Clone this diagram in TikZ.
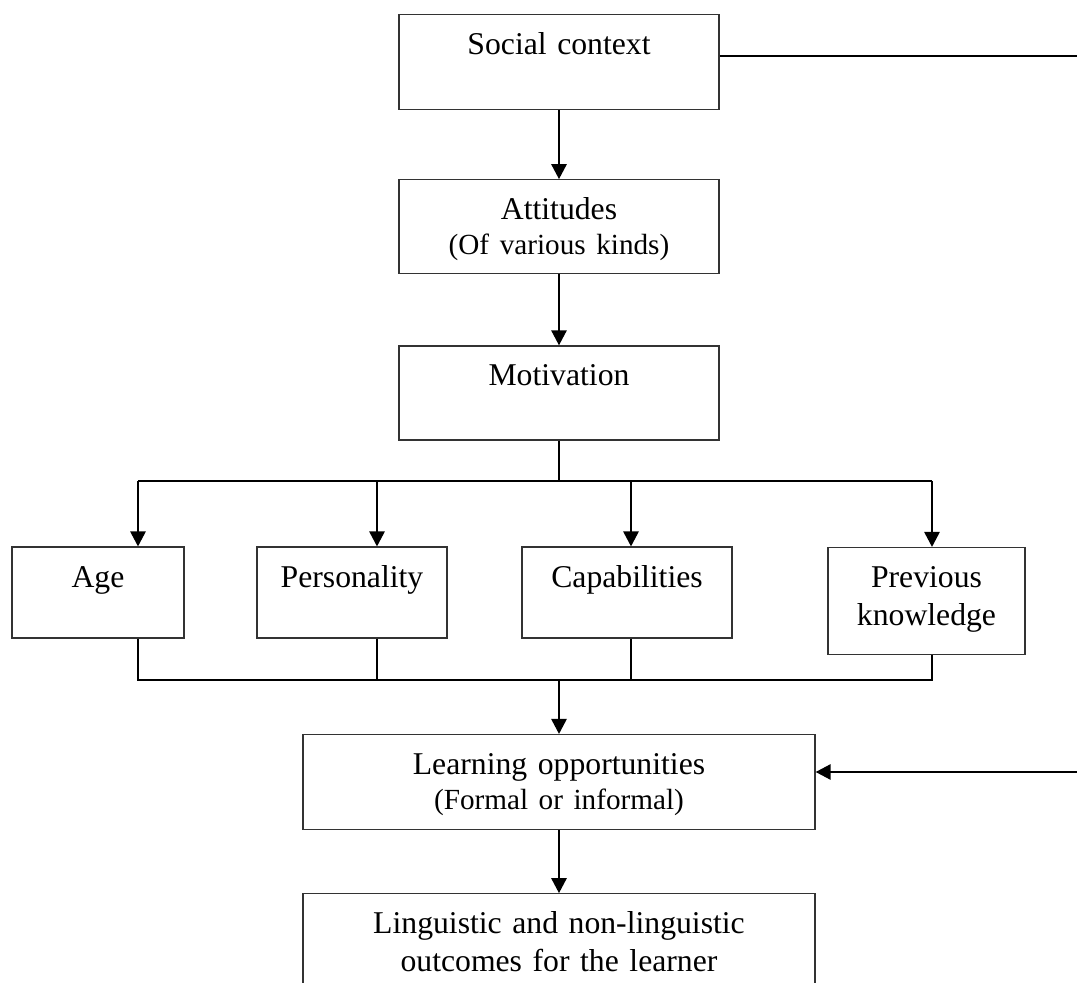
\documentclass[tikz,border=0pt]{standalone}
\usepackage{fontspec}
\setmainfont{Liberation Serif}
\usetikzlibrary{arrows.meta, positioning}
\newcommand{\subline}{\fontsize{14.6}{17.5}\selectfont}

\begin{document}
\begin{tikzpicture}[
    x=0.5pt, y=-0.5pt,
    box/.style={draw=black!80, line width=0.6pt, rectangle, anchor=north, inner xsep=0pt, inner ysep=0pt, align=center, text height=20pt, text depth=27pt, text width=160pt, font=\fontsize{15.85}{19}\selectfont},
    arrow/.style={-{Triangle[length=7.5pt, width=7.5pt]}, line width=1.3pt},
    link/.style={line width=0.55pt}
]
\path [use as bounding box] (0,0) rectangle (1077,983);
\clip (0,0) rectangle (1077,983);

% Main column
\node [box, text depth=27.5pt] (soc) at (559,14) {Social context};
\node [box, below=34.5pt of soc] (att) {Attitudes\\[-1.5pt]{\subline (Of various kinds)}};
\node [box, below=35.5pt of att] (mot) {Motivation};

% Learner factors
\node [box, text width=86pt, text depth=25.5pt] (age) at (98,546.5) {Age};
\node [box, text width=95pt, text depth=25.5pt] (pers) at (352,546.5) {Personality};
\node [box, text width=105pt, text depth=25.5pt] (cap) at (627,546.5) {Capabilities};
\node [box, text width=98.5pt, text depth=33.5pt] (prev) at (926.5,547) {Previous\\knowledge};

\node [box, text width=256pt, text depth=27.5pt] (learn) at (559,734) {Learning opportunities\\[-1.5pt]{\subline (Formal or informal)}};
\node [box, text width=256pt, text depth=28pt, below=31.5pt of learn] (outc) {Linguistic and non-linguistic\\outcomes for the learner};

% Free ends and bus points
\coordinate (ctxend) at (1077,56);
\coordinate (lrnstart) at (1077,772);
\coordinate (busin) at (559,481);
\coordinate (busA) at (138,481);
\coordinate (busB) at (377,481);
\coordinate (busC) at (631,481);
\coordinate (busD) at (932,481);
\coordinate (joinout) at (559,680);

% Arrows
\draw [link] (ctxend -| soc.east) -- (ctxend);
\draw [arrow] (soc) -- (att);
\draw [arrow] (att) -- (mot);

\draw [link] (mot) -- (busin);
\draw [link] (busA) -- (busD);
\draw [arrow] (busA) -- (busA |- age.north);
\draw [arrow] (busB) -- (busB |- pers.north);
\draw [arrow] (busC) -- (busC |- cap.north);
\draw [arrow] (busD) -- (busD |- prev.north);

\draw [link] (busA |- age.south) -- (busA |- joinout) -- (busD |- joinout) -- (busD |- prev.south);
\draw [link] (busB |- pers.south) -- (busB |- joinout);
\draw [link] (busC |- cap.south) -- (busC |- joinout);

\draw [arrow] (joinout) -- (learn);
\draw [arrow] (lrnstart) -- (lrnstart -| learn.east);
\draw [arrow] (learn) -- (outc);

\end{tikzpicture}
\end{document}
